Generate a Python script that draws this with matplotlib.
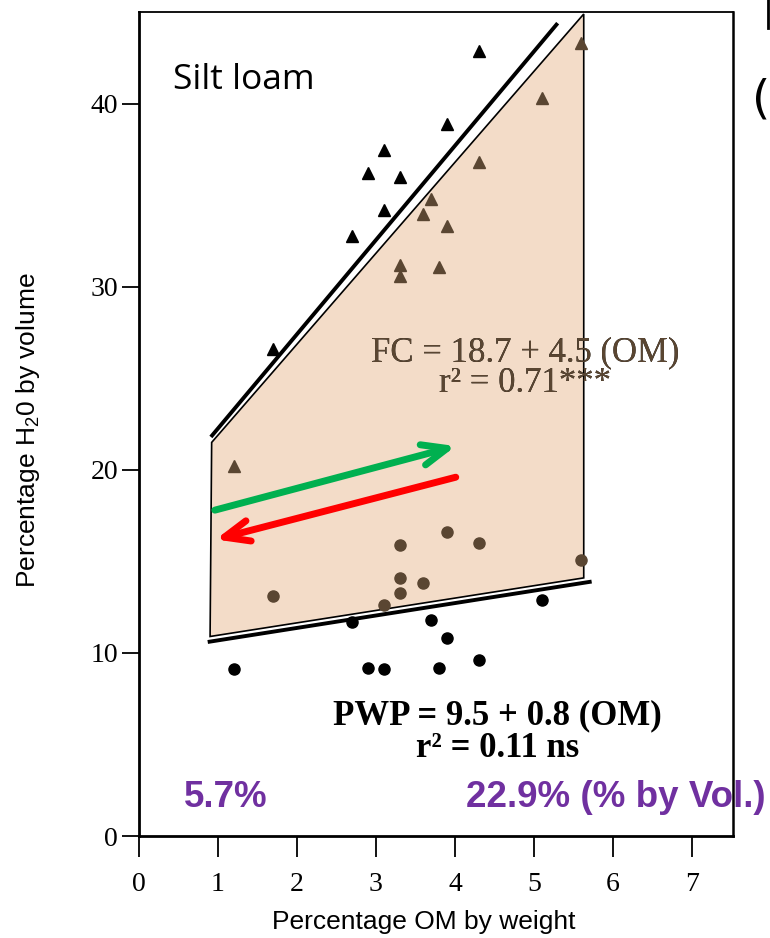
import matplotlib
matplotlib.use("Agg")
import matplotlib.pyplot as plt
from matplotlib.patches import Polygon
from matplotlib.lines import Line2D

plt.rcParams["mathtext.fontset"] = "custom"
plt.rcParams["mathtext.rm"] = "Liberation Sans"

# field capacity (triangles) and wilting point (circles)
fc_out_x = [1.7, 2.7, 2.9, 3.1, 3.1, 3.3, 3.9, 4.3]
fc_out_y = [26.6, 32.8, 36.2, 37.5, 34.2, 36.0, 38.9, 42.9]
fc_in_x = [1.2, 3.3, 3.3, 3.6, 3.7, 3.8, 3.9, 4.3, 5.1, 5.6]
fc_in_y = [20.2, 30.6, 31.2, 34.0, 34.8, 31.1, 33.3, 36.8, 40.3, 43.3]

pwp_out_x = [1.2, 2.7, 2.9, 3.1, 3.7, 3.8, 3.9, 4.3, 5.1]
pwp_out_y = [9.1, 11.7, 9.2, 9.1, 11.8, 9.2, 10.8, 9.6, 12.9]
pwp_in_x = [1.7, 3.1, 3.3, 3.3, 3.3, 3.6, 3.9, 4.3, 5.6]
pwp_in_y = [13.1, 12.6, 15.9, 14.1, 13.3, 13.8, 16.6, 16.0, 15.1]

fc_line_x = [0.91, 5.30]
fc_line_y = [21.8, 44.4]
pwp_line_x = [0.87, 5.73]
pwp_line_y = [10.6, 13.9]

# available water band
band_x = [0.92, 5.63, 5.63, 0.90]
band_y = [21.5, 44.9, 14.1, 10.9]

green_arrow = [(0.96, 17.8), (4.01, 21.3)]
red_arrow = [(4.01, 19.6), (0.97, 16.2)]

brown = "#5a4632"
serif = ["Liberation Serif", "DejaVu Serif"]
sans = ["Liberation Sans", "DejaVu Sans"]

fig = plt.figure(figsize=(7.7, 9.38), dpi=100)
ax = fig.add_axes([0.1805, 0.1087, 0.7715, 0.8783])
ax.set_xlim(0, 7.52)
ax.set_ylim(0, 45)

poly = Polygon(list(zip(band_x, band_y)), closed=True, facecolor="#f3dcc8",
               edgecolor="black", lw=1.2, zorder=1)
ax.add_patch(poly)

ax.plot(fc_line_x, fc_line_y, color="black", lw=2.8, zorder=2, solid_capstyle="butt")
ax.plot(pwp_line_x, pwp_line_y, color="black", lw=2.8, zorder=2, solid_capstyle="butt")

ax.plot(fc_out_x, fc_out_y, "^", color="black", ms=8, ls="none", zorder=3)
ax.plot(fc_in_x, fc_in_y, "^", color=brown, ms=8, ls="none", zorder=3)
ax.plot(pwp_out_x, pwp_out_y, "o", color="black", ms=8, ls="none", zorder=3)
ax.plot(pwp_in_x, pwp_in_y, "o", color=brown, ms=8, ls="none", zorder=3)

astyle = "->,head_length=1.8,head_width=0.75"
ax.annotate("", xy=green_arrow[1], xytext=green_arrow[0],
            arrowprops=dict(arrowstyle=astyle, color="#00b050", lw=5,
                            shrinkA=0, shrinkB=0), zorder=4)
ax.annotate("", xy=red_arrow[1], xytext=red_arrow[0],
            arrowprops=dict(arrowstyle=astyle, color="#ff0000", lw=5,
                            shrinkA=0, shrinkB=0), zorder=4)

# FC equation: black, with a brown copy clipped to the shaded band
for col, clip in (("black", False), (brown, True)):
    t1 = ax.text(4.89, 26.4, "FC = 18.7 + 4.5 (OM)", ha="center", va="center",
                 fontsize=25, family=serif, color=col, zorder=5)
    t2 = ax.text(4.89, 24.7, "r² = 0.71***", ha="center", va="center",
                 fontsize=25, family=serif, color=col, zorder=5)
    if clip:
        t1.set_clip_path(poly)
        t2.set_clip_path(poly)

ax.text(4.54, 6.55, "PWP = 9.5 + 0.8 (OM)", ha="center", va="center",
        fontsize=25, family=serif, color="black", weight="bold")
ax.text(4.54, 4.8, "r² = 0.11 ns", ha="center", va="center",
        fontsize=25, family=serif, color="black", weight="bold")

ax.text(0.43, 41.3, "Silt loam", ha="left", va="center", fontsize=25.5,
        family=["Open Sans", "DejaVu Sans"])

purple = "#7030a0"
ax.text(1.10, 2.1, "5.7%", ha="center", va="center", fontsize=26.5,
        weight="bold", color=purple, family=sans)
ax.text(6.04, 2.1, "22.9% (% by Vol.)", ha="center", va="center", fontsize=26.5,
        weight="bold", color=purple, family=sans, clip_on=False, zorder=6)

ax.set_xticks(range(0, 8))
ax.set_yticks(range(0, 41, 10))
ax.tick_params(axis="x", direction="out", length=15, width=1.3, pad=11, labelsize=20)
ax.tick_params(axis="y", direction="out", length=12, width=1.3, pad=3, labelsize=20)
for lab in ax.get_xticklabels() + ax.get_yticklabels():
    lab.set_family(serif)

ax.spines["left"].set_linewidth(2)
ax.spines["bottom"].set_linewidth(2)
ax.spines["top"].set_linewidth(1.3)
ax.spines["right"].set_linewidth(1.8)

ax.set_xlabel("Percentage OM by weight", fontsize=19, family=sans)
ax.set_ylabel("Percentage H$_2$0 by volume", fontsize=19, family=sans)
ax.xaxis.set_label_coords(0.48, -0.09)
ax.yaxis.set_label_coords(-0.163, 0.493)

# fragments of neighbouring text at the right edge
fig.text(1.0, 0.893, "(", fontsize=34, ha="right", va="center")
fig.add_artist(Line2D([0.997, 0.997], [0.97, 1.0], color="black", lw=2))

fig.savefig("out.png", dpi=100)
